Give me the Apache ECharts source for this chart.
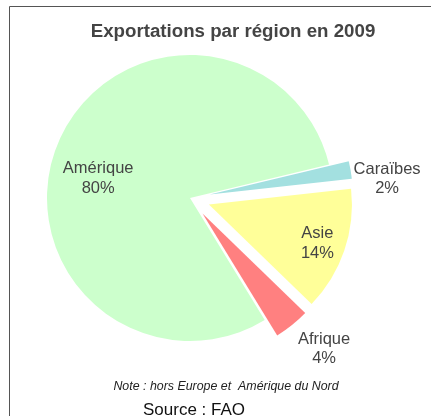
<!DOCTYPE html>
<html>
<head>
<meta charset="utf-8">
<script src="https://cdn.jsdelivr.net/npm/echarts@6/dist/echarts.min.js"></script>
<style>
html,body{margin:0;padding:0;background:#fff;}
#chart{width:431px;height:416px;}
</style>
</head>
<body>
<div id="chart"></div>
<script>
const categories = ['Amérique', 'Caraïbes', 'Asie', 'Afrique'];
const values = [80, 2, 14, 4];
const exploded = [false, true, true, true];
const colors = ['#CCFFCC', '#A3E0E0', '#FFFF99', '#FF8080'];
const titleText = 'Exportations par région en 2009';
const noteText = 'Note : hors Europe et  Amérique du Nord';
const sourceText = 'Source : FAO';
// label shifts from default inside position
const labelShift = [[-23, 9], [104, -3], [38, 15], [75, 77]];

const chart = echarts.init(document.getElementById('chart'), null, {renderer: 'canvas'});
const fontFamily = 'Liberation Sans, Arial, sans-serif';
chart.setOption({
  animation: false,
  backgroundColor: '#fff',
  title: {
    text: titleText,
    left: 228, top: 17,
    textAlign: 'center',
    textStyle: {fontFamily, fontSize: 18.7, fontWeight: 'bold', color: '#444'}
  },
  graphic: [
    {type: 'rect', shape: {x: 9.5, y: 6.5, width: 600, height: 600}, style: {fill: 'none', stroke: '#555', lineWidth: 1}, silent: true, z: -1},
    {type: 'text', style: {text: noteText, x: 226, y: 387, align: 'center', verticalAlign: 'middle', font: 'italic 12.4px Liberation Sans, Arial, sans-serif', fill: '#222'}},
    {type: 'text', style: {text: sourceText, x: 194, y: 410, align: 'center', verticalAlign: 'middle', font: '17px Liberation Sans, Arial, sans-serif', fill: '#111'}}
  ],
  series: [{
    type: 'pie',
    center: [190, 198],
    radius: [0, 143],
    startAngle: 301.5,
    clockwise: true,
    selectedMode: 'multiple',
    selectedOffset: 20,
    avoidLabelOverlap: false,
    emphasis: {disabled: true},
    select: {itemStyle: {borderWidth: 0}},
    itemStyle: {borderWidth: 0},
    label: {
      show: true,
      position: 'inside',
      formatter: p => p.name + '\n' + Math.round(p.percent) + '%',
      fontFamily, fontSize: 16.5, lineHeight: 19.5, color: '#444'
    },
    labelLine: {show: false},
    labelLayout: p => ({dx: labelShift[p.dataIndex][0], dy: labelShift[p.dataIndex][1]}),
    data: categories.map((c, i) => ({
      name: c, value: values[i], selected: exploded[i],
      itemStyle: {color: colors[i]}
    }))
  }]
});
</script>
</body>
</html>
